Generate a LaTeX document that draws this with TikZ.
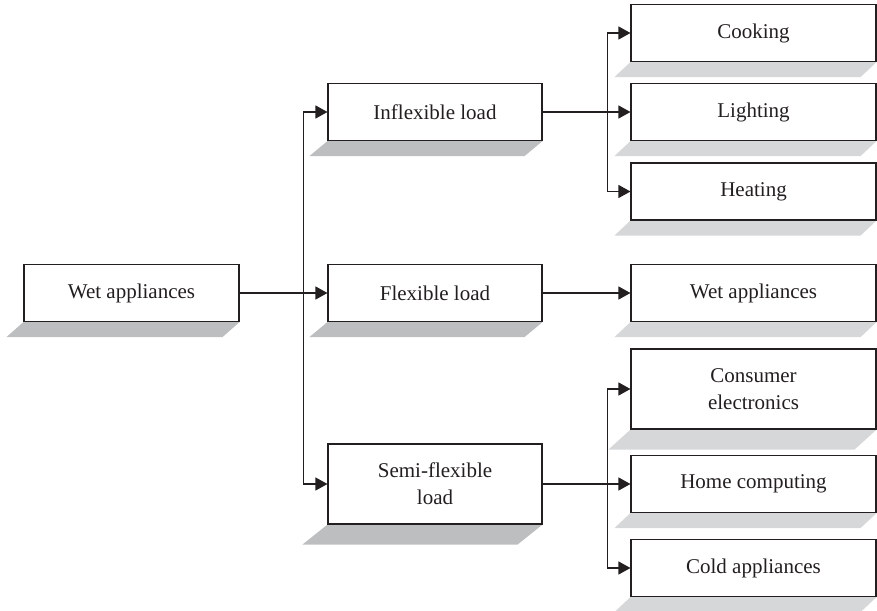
\documentclass[tikz,border=0pt]{standalone}
\usepackage{fontspec}
\setmainfont{Liberation Serif}
\usetikzlibrary{arrows.meta,backgrounds,calc}

\definecolor{inkgray}{HTML}{231F20}
\definecolor{shadedark}{HTML}{BDBEC0}
\definecolor{shadelight}{HTML}{D6D7D9}

\tikzset{
  box/.style={draw=inkgray, line width=1.1pt, fill=white, inner sep=0pt,
    minimum width=214pt, minimum height=57pt, align=center,
    text=inkgray, font=\fontsize{21}{27}\selectfont},
  tallbox/.style={box, minimum height=80pt},
  wide/.style={minimum width=245pt},
  link/.style={draw=inkgray, line width=1.1pt,
    -{Triangle[length=12pt,width=13pt]}}
}

\begin{document}
\begin{tikzpicture}[x=1pt, y=-1pt]
  \useasboundingbox (0,0) rectangle (877,610);

  % source and load classes
  \node[box, minimum width=215pt] (wet) at (131.5,293) {Wet appliances};
  \node[box]     (inflex) at (435,112)   {Inflexible load};
  \node[box]     (flex)   at (435,293)   {Flexible load};
  \node[tallbox] (semi)   at (435,484)   {Semi-flexible\\load};

  % appliances
  \node[box, wide]     (cook)  at (753.5,33)    {Cooking};
  \node[box, wide]     (light) at (753.5,112)   {Lighting};
  \node[box, wide]     (heat)  at (753.5,191.5) {Heating};
  \node[box, wide]     (wash)  at (753.5,293)   {Wet appliances};
  \node[tallbox, wide] (elec)  at (753.5,389)   {Consumer\\electronics};
  \node[box, wide]     (comp)  at (753.5,484)   {Home computing};
  \node[box, wide]     (cold)  at (753.5,568)   {Cold appliances};

  % slanted shadows under the boxes
  \begin{scope}[on background layer]
    \foreach \n/\dx/\dy/\c in {wet/17/15/shadedark, inflex/18/15/shadedark,
        flex/18/15/shadedark, semi/25/20/shadedark,
        cook/16/15/shadelight, light/16/15/shadelight, heat/16/15/shadelight,
        wash/16/15/shadelight, elec/22/20/shadelight, comp/16/15/shadelight,
        cold/16/15/shadelight}
      \fill[\c] (\n.south west) -- (\n.south east) -- ++(-\dx,\dy)
        -- ($(\n.south west)+(-\dx,\dy)$) -- cycle;
  \end{scope}

  % connectors
  \draw[link] (wet.east) -- (flex.west);
  \draw[link] (wet.east) -- ++(64,0) |- (inflex.west);
  \draw[link] (wet.east) -- ++(64,0) |- (semi.west);

  \draw[link] (inflex.east) -- (light.west);
  \draw[link] (inflex.east) -- ++(65,0) |- (cook.west);
  \draw[link] (inflex.east) -- ++(65,0) |- (heat.west);

  \draw[link] (flex.east) -- (wash.west);

  \draw[link] (semi.east) -- (comp.west);
  \draw[link] (semi.east) -- ++(65,0) |- (elec.west);
  \draw[link] (semi.east) -- ++(65,0) |- (cold.west);
\end{tikzpicture}
\end{document}
